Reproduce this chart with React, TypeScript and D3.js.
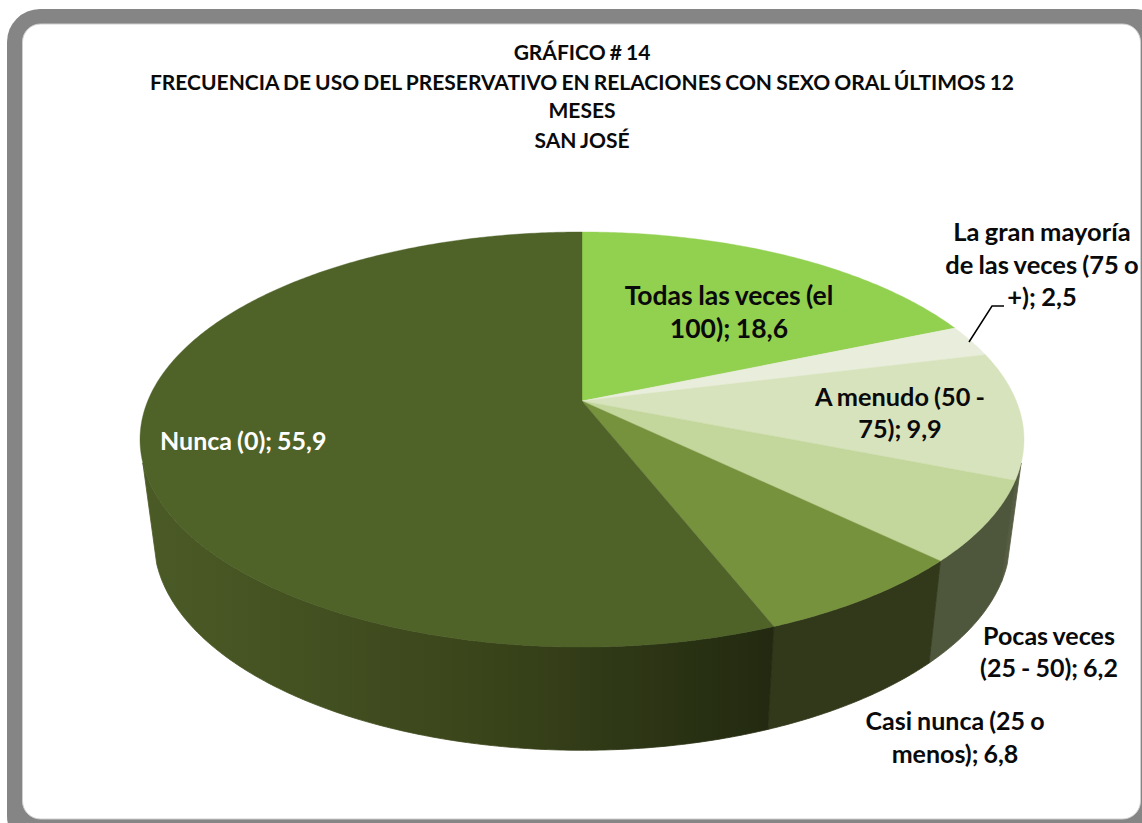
import React from "react";
import * as d3 from "d3";

const categories = [
  "Todas las veces (el 100)",
  "La gran mayoría de las veces (75 o +)",
  "A menudo (50 - 75)",
  "Pocas veces (25 - 50)",
  "Casi nunca (25 o menos)",
  "Nunca (0)",
];
const values = [18.6, 2.5, 9.9, 6.2, 6.8, 55.9];
const topColors = ["#92D050", "#E9EDDC", "#D7E3BC", "#C3D69B", "#76923C", "#4F6228"];
const wallColors = ["#5A7A30", "#5B6148", "#565D42", "#4E563C", "#31391A", "url(#nuncaWall)"];
const titleLines = [
  "GRÁFICO # 14",
  "FRECUENCIA DE USO DEL PRESERVATIVO EN RELACIONES CON SEXO ORAL ÚLTIMOS 12",
  "MESES",
  "SAN JOSÉ",
];
const titleBaselines = [60, 90, 118, 148];
const labelLines = [
  ["Todas las veces (el", "100); 18,6"],
  ["La gran mayoría", "de las veces (75 o", "+); 2,5"],
  ["A menudo (50 -", "75); 9,9"],
  ["Pocas veces", "(25 - 50); 6,2"],
  ["Casi nunca (25 o", "menos); 6,8"],
  ["Nunca (0); 55,9"],
];
const labelAnchors = [
  { x: 729, y: 305, dy: 33, size: 26.5, fill: "#0a0a0a", anchor: "middle" },
  { x: 1042, y: 241, dy: 32.5, size: 25.5, fill: "#0a0a0a", anchor: "middle" },
  { x: 900, y: 406, dy: 32, size: 25.3, fill: "#0a0a0a", anchor: "middle" },
  { x: 1049, y: 645, dy: 32, size: 25, fill: "#0a0a0a", anchor: "middle" },
  { x: 955, y: 730, dy: 33, size: 25, fill: "#0a0a0a", anchor: "middle" },
  { x: 160, y: 450, dy: 0, size: 25, fill: "#ffffff", anchor: "start" },
];
const leader: [number, number][] = [[969, 342], [992, 306], [1004, 306]];

// Perspective projection of the pie disc: back of the pie is smaller than the front.
const cx = 582;
const k = 0.1856;
const topRim = { A: 434.3, B: 200.4, y0: 401 };
const lowRim = { A: 420.6, B: 203, y0: 501 };
const project = (rim: { A: number; B: number; y0: number }, t: number): [number, number] => {
  const w = 1 + k * Math.cos(t);
  return [cx + (rim.A * Math.sin(t)) / w, rim.y0 - (rim.B * Math.cos(t)) / w];
};
const wallStart = (107 * Math.PI) / 180;
const wallEnd = (253 * Math.PI) / 180;

const arcs = d3.pie<number>().sort(null)(values);
const line = d3.line();
const sample = (a: number, b: number) => {
  const n = Math.max(2, Math.ceil(Math.abs(b - a) / 0.01));
  return d3.range(n + 1).map((i) => a + ((b - a) * i) / n);
};

const topPath = (a: number, b: number) =>
  line([[cx, topRim.y0], ...sample(a, b).map((t) => project(topRim, t))]) + "Z";
const wallPath = (a: number, b: number) =>
  line([
    ...sample(a, b).map((t) => project(topRim, t)),
    ...sample(b, a).map((t) => project(lowRim, t)),
  ]) + "Z";

const font = "Lato, Carlito, sans-serif";

export default function App() {
  return (
    <svg
      width={1142}
      height={823}
      viewBox="0 0 1142 823"
      style={{ position: "absolute", left: 0, top: 0, display: "block", background: "#fff" }}
    >
      <defs>
        <linearGradient id="nuncaWall" gradientUnits="userSpaceOnUse" x1={140} y1={0} x2={775} y2={0}>
          <stop offset="0" stopColor="#4B5B26" />
          <stop offset="0.3" stopColor="#424F20" />
          <stop offset="0.55" stopColor="#3A441A" />
          <stop offset="0.75" stopColor="#2F3816" />
          <stop offset="1" stopColor="#222910" />
        </linearGradient>
      </defs>

      <rect x={7} y={9} width={1160} height={840} rx={33} fill="#858585" />
      <rect x={22.5} y={24} width={1118} height={795} rx={18} fill="#fff" stroke="#cfcfcf" strokeWidth={1} />

      {arcs.map((d, i) => {
        const a = Math.max(d.startAngle, wallStart);
        const b = Math.min(d.endAngle, wallEnd);
        return b > a ? (
          <path key={i} d={wallPath(a, b)} fill={wallColors[i]} stroke={wallColors[i]} strokeWidth={0.8} />
        ) : null;
      })}

      {arcs.map((d, i) => (
        <path key={i} d={topPath(d.startAngle, d.endAngle)} fill={topColors[i]} stroke={topColors[i]} strokeWidth={0.4}>
          <title>{categories[i]}</title>
        </path>
      ))}

      <path d={line(leader) as string} fill="none" stroke="#000" strokeWidth={1.5} />

      <g fontFamily={font} fontWeight={700} fontSize={21} fill="#0a0a0a" textAnchor="middle" wordSpacing={-1}>
        {titleLines.map((t, i) => (
          <text key={i} x={582} y={titleBaselines[i]}>{t}</text>
        ))}
      </g>

      <g fontFamily={font} fontWeight={700} wordSpacing={-1}>
        {labelLines.map((lines, i) =>
          lines.map((t, j) => (
            <text
              key={`${i}-${j}`}
              x={labelAnchors[i].x}
              y={labelAnchors[i].y + j * labelAnchors[i].dy}
              fontSize={labelAnchors[i].size}
              fill={labelAnchors[i].fill}
              textAnchor={labelAnchors[i].anchor as "middle" | "start"}
            >
              {t}
            </text>
          ))
        )}
      </g>
    </svg>
  );
}
